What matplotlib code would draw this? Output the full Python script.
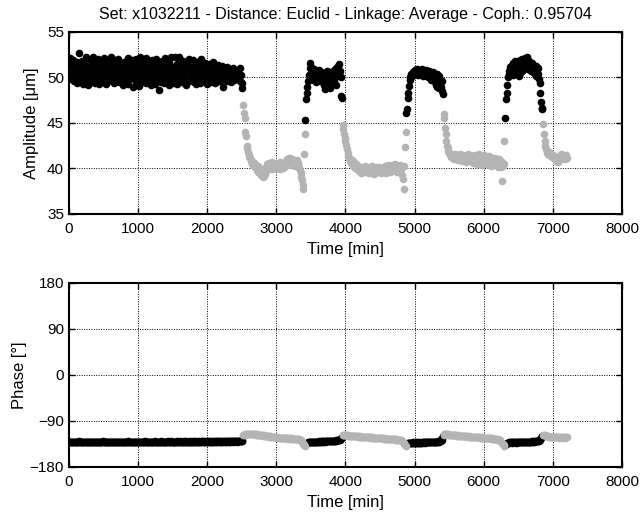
import numpy as np
import matplotlib
matplotlib.use("Agg")
import matplotlib.pyplot as plt

plt.rcParams['font.family'] = ['Liberation Sans', 'DejaVu Sans']

# sampling every 10 min, 0..7200
t = np.arange(0, 7201, 10)
seg_len = [252, 90, 54, 92, 54, 89, 55, 35]
seg_cluster = [1, 2, 1, 2, 1, 2, 1, 2]

# amplitude [um], per segment
amp_k1 = [51.6, 50.4, 52.1, 49.8, 51.2, 50.1, 51.9, 49.6, 50.8, 51.4, 50.0, 49.4, 51.7, 50.6, 49.9, 52.7, 51.0, 49.5, 50.7, 51.8,
          50.2, 49.3, 51.5, 50.9, 49.8, 52.2, 50.4, 49.2, 51.1, 50.6, 49.7, 51.9, 50.3, 49.5, 51.3, 52.3, 50.8, 49.4, 50.1, 51.6,
          49.9, 50.7, 52.0, 49.3, 51.2, 50.5, 49.8, 51.7, 50.2, 49.5, 51.0, 52.1, 50.6, 49.3, 50.9, 51.5, 49.7, 50.3, 51.8, 49.9,
          50.8, 52.2, 49.6, 51.3, 50.1, 49.4, 51.9, 50.7, 49.9, 51.4, 50.3, 52.0, 49.5, 50.9, 51.6, 49.8, 50.4, 51.2, 49.2, 50.6,
          51.7, 50.0, 49.6, 51.1, 50.5, 52.1, 49.3, 50.8, 51.4, 49.9, 50.2, 51.9, 48.9, 50.6, 51.3, 49.7, 50.9, 52.0, 49.4, 50.3,
          51.5, 49.1, 50.7, 52.2, 50.0, 49.5, 51.2, 50.4, 51.8, 49.8, 50.6, 52.1, 49.4, 51.0, 50.3, 49.7, 51.6, 50.9, 49.2, 50.5,
          51.9, 50.1, 49.6, 51.3, 50.7, 49.3, 52.0, 50.4, 49.9, 51.5, 48.6, 50.8, 51.2, 49.5, 50.2, 51.8, 50.6, 49.4, 51.0, 52.1,
          50.3, 49.7, 51.4, 50.0, 49.2, 51.7, 50.8, 49.9, 52.2, 50.5, 49.4, 51.1, 50.2, 52.3, 49.6, 50.9, 51.5, 49.3, 50.6, 52.2,
          50.1, 49.8, 51.3, 50.7, 49.5, 51.8, 50.3, 49.9, 51.0, 50.5, 49.2, 51.6, 50.8, 52.0, 49.6, 50.4, 51.2, 49.7, 50.9, 51.9,
          50.2, 49.5, 51.1, 50.6, 49.3, 51.7, 50.0, 49.8, 51.4, 50.7, 49.4, 52.0, 50.3, 49.9, 51.2, 50.5, 49.6, 51.6, 50.1, 49.3,
          51.3, 50.8, 49.7, 51.5, 50.2, 49.5, 51.0, 50.6, 49.9, 51.7, 50.4, 49.4, 51.2, 50.0, 49.8, 51.4, 50.7, 49.6, 51.1, 50.3,
          49.7, 50.9, 51.3, 48.9, 50.5, 51.0, 49.8, 50.2, 51.2, 49.6, 50.7, 50.1, 49.9, 50.8, 50.4, 49.5, 50.6, 51.0, 50.0, 49.7,
          50.5, 50.2, 49.8, 50.6, 50.0, 49.9, 50.4, 51.0, 49.6, 50.3, 48.8, 49.4]
amp_g1 = [47.0, 46.1, 45.6, 44.0, 43.6, 42.5, 42.2, 41.8, 41.5, 41.3,
          41.1, 40.9, 40.8, 40.5, 40.7, 40.3, 40.6, 40.2, 40.4, 40.0,
          39.8, 40.3, 39.6, 40.1, 39.5, 39.9, 39.3, 39.7, 39.1, 39.6,
          39.2, 40.0, 39.4, 40.2, 39.8, 40.5, 39.9, 40.3, 40.6, 40.1,
          40.4, 39.9, 40.7, 40.2, 40.5, 40.0, 40.3, 40.6, 40.1, 40.4,
          40.0, 40.5, 40.2, 40.7, 39.9, 40.3, 40.6, 40.1, 40.4, 40.2,
          40.6, 40.3, 40.8, 40.5, 41.0, 40.7, 41.2, 40.9, 41.1, 40.8,
          40.6, 41.0, 40.4, 40.9, 40.7, 40.3, 40.8, 40.5, 40.9, 40.6,
          40.4, 40.1, 39.8, 39.5, 39.1, 38.7, 38.2, 37.8, 41.6, 43.8]
amp_k2 = [45.3, 47.6, 48.3, 48.9, 49.6, 50.3, 51.0, 51.6, 51.2, 50.6,
          50.1, 49.7, 50.4, 50.9, 50.2, 49.5, 50.7, 50.0, 49.8, 50.5,
          50.8, 50.3, 49.6, 50.6, 50.1, 49.9, 50.4, 49.2, 48.7, 49.5,
          50.2, 50.7, 50.4, 49.9, 50.6, 48.8, 49.4, 50.1, 50.5, 50.0,
          50.3, 49.6, 50.8, 50.4, 49.2, 51.0, 50.6, 51.3, 50.2, 51.5,
          50.7, 50.1, 48.0, 47.7]
amp_g2 = [44.8, 44.3, 43.8, 43.4, 43.0, 42.6, 42.1, 41.7, 41.4, 41.1,
          41.0, 40.8, 40.6, 40.9, 40.5, 40.3, 40.7, 40.4, 40.1, 40.5,
          40.2, 39.9, 40.3, 40.0, 39.7, 40.2, 39.5, 39.9, 40.1, 39.6,
          40.0, 39.8, 40.3, 39.6, 39.9, 40.2, 39.7, 40.0, 39.5, 39.8,
          40.1, 39.6, 39.9, 40.3, 39.7, 40.0, 39.4, 39.8, 40.2, 39.9,
          39.6, 40.0, 39.7, 40.2, 39.9, 39.5, 39.8, 40.1, 39.6, 40.0,
          39.8, 40.3, 39.5, 39.9, 40.2, 39.7, 40.4, 39.9, 40.1, 39.6,
          40.0, 40.4, 39.7, 40.2, 39.9, 40.5, 39.8, 40.1, 40.3, 39.6,
          40.0, 40.2, 39.7, 40.4, 39.9, 40.1, 39.3, 38.8, 37.7, 40.3,
          42.4, 44.0]
amp_k3 = [46.1, 46.5, 47.7, 48.3, 49.1, 49.7, 50.1, 50.4, 50.2, 50.6,
          50.3, 50.7, 50.5, 50.8, 50.4, 50.9, 50.6, 50.3, 50.7, 50.5,
          50.8, 50.4, 50.9, 50.6, 50.2, 50.7, 50.5, 50.3, 50.8, 50.4,
          50.6, 50.1, 50.5, 50.7, 50.0, 50.4, 49.7, 50.2, 50.6, 49.9,
          50.3, 49.5, 50.1, 49.2, 50.4, 49.0, 49.8, 48.8, 50.2, 49.4,
          48.9, 48.5, 49.6, 48.2]
amp_g3 = [46.0, 45.6, 44.5, 43.8, 43.0, 42.5, 42.2, 41.9, 41.7, 41.5,
          41.6, 41.3, 41.5, 41.2, 41.4, 41.0, 41.6, 41.3, 41.1, 41.5,
          41.2, 40.9, 41.4, 41.1, 41.6, 41.0, 41.3, 40.8, 41.5, 41.2,
          41.0, 41.4, 40.7, 41.3, 41.1, 41.6, 40.9, 41.2, 41.5, 40.8,
          41.3, 41.0, 41.4, 40.6, 41.2, 41.5, 40.9, 41.1, 40.5, 41.3,
          41.0, 41.6, 40.8, 41.2, 40.4, 41.4, 40.9, 41.1, 40.6, 41.5,
          41.2, 40.7, 41.3, 40.5, 41.0, 41.4, 40.8, 41.1, 40.3, 40.9,
          41.2, 40.6, 41.0, 40.4, 40.8, 41.1, 40.5, 40.9, 40.2, 40.7,
          41.0, 40.4, 40.8, 40.2, 38.6, 40.7, 40.3, 43.0, 40.5]
amp_k4 = [45.5, 47.6, 48.3, 49.2, 50.0, 50.7, 50.4, 51.1, 50.6, 51.3,
          50.8, 51.6, 50.3, 51.0, 51.8, 50.5, 51.2, 51.7, 50.9, 51.4,
          50.2, 51.9, 51.1, 50.6, 51.5, 52.0, 50.8, 51.3, 51.7, 52.1,
          51.0, 52.3, 51.6, 50.9, 51.4, 51.8, 51.2, 51.5, 50.7, 51.6,
          51.1, 51.4, 50.5, 51.0, 51.3, 50.2, 50.8, 50.4, 51.0, 49.8,
          49.4, 48.3, 47.3, 46.7, 46.5]
amp_g4 = [44.9, 43.8, 43.0, 42.5, 42.1, 41.7, 41.9, 41.6, 41.8, 41.5,
          41.7, 41.4, 41.6, 41.3, 41.5, 41.2, 41.4, 41.0, 41.3, 40.8,
          41.1, 40.7, 41.2, 40.9, 41.4, 41.0, 41.6, 41.3, 41.5, 41.1,
          41.4, 41.0, 41.3, 41.5, 41.2]

# phase [deg], per segment
ph_k1 = [-130.5, -131, -131.5, -131, -130.5, -131, -132, -131, -130.5, -131.5, -131, -130.5, -131, -131.5, -131, -130, -131, -131.5, -131, -130.5,
         -131, -131.5, -130.5, -131, -132, -131, -130.5, -131, -131.5, -131, -130.5, -131, -131.5, -130.5, -131, -131.5, -132, -131, -130.5, -131,
         -131.5, -131, -130.5, -131, -131.5, -130.5, -131, -131.5, -131, -130, -131, -131.5, -131, -130.5, -131, -132, -131.5, -131, -130.5, -131,
         -131, -130.5, -131.5, -131, -130.5, -131, -131.5, -131, -130.5, -131, -132, -131, -130.5, -131.5, -131, -130.5, -131, -131.5, -130.5, -131,
         -131.5, -131, -130.5, -131, -131.5, -130, -131, -131.5, -131, -130.5, -131, -131.5, -132, -131, -130.5, -131, -131.5, -131, -130.5, -131,
         -130.5, -131, -131.5, -130.5, -131, -132, -131, -130.5, -131, -131.5, -130, -131, -131.5, -131, -130.5, -131, -131.5, -130.5, -131, -131.5,
         -131, -130.5, -131, -131.5, -130, -131, -131.5, -130.5, -131, -132, -131, -130.5, -131, -129.5, -131, -131.5, -130.5, -131, -131.5, -131,
         -130.5, -131, -131.5, -130, -131, -131.5, -130.5, -131, -129.5, -131, -131.5, -130.5, -131, -132, -130.5, -131, -130, -131.5, -131, -130.5,
         -131, -129.5, -131, -131.5, -130.5, -131, -130, -131.5, -131, -130.5, -129.5, -131, -131.5, -130.5, -131, -130, -131, -131.5, -130.5, -129.5,
         -131, -130.5, -131.5, -130, -131, -130.5, -129.5, -131, -131.5, -130.5, -131, -130, -129.5, -131, -130.5, -131.5, -130, -131, -129.5, -130.5,
         -131, -130, -130.5, -129.5, -131, -130.5, -130, -131, -129.5, -130.5, -131, -130, -129, -130.5, -131, -130, -129.5, -130.5, -131, -130,
         -129.5, -130.5, -131, -129, -130, -130.5, -129.5, -131, -130, -129, -130.5, -129.5, -130, -131, -129, -130, -129.5, -130.5, -129, -130,
         -129.5, -130, -129, -130.5, -129.5, -129, -130, -129.5, -128.5, -129.5, -129, -128.5]
ph_g1 = [-117, -116.5, -116, -116.5, -115.5, -116, -115.5, -116, -115.5, -116,
         -115.5, -116, -115, -115.5, -116, -115.5, -115, -116, -115.5, -116.5,
         -116, -116.5, -117, -116.5, -117.5, -117, -118, -117.5, -118, -118.5,
         -118, -119, -118.5, -119.5, -119, -120, -119.5, -120, -120.5, -120,
         -121, -120.5, -121, -121.5, -121, -122, -121.5, -122, -121.5, -122.5,
         -122, -122.5, -123, -122.5, -123, -122.5, -123.5, -123, -123.5, -123,
         -123.5, -124, -123.5, -124, -123.5, -124.5, -124, -123.5, -124.5, -124,
         -124.5, -124, -125, -124.5, -125, -124.5, -125.5, -125, -125.5, -125,
         -125.5, -126, -126.5, -127.5, -129, -130.5, -132.5, -135, -137.5, -139]
ph_k2 = [-137, -135, -133.5, -132.5, -132, -131.5, -132, -131.5, -131, -131.5,
         -131, -131.5, -130.5, -131, -131.5, -130.5, -131, -130.5, -131, -130,
         -130.5, -131, -130, -130.5, -130, -130.5, -129.5, -130, -130.5, -129.5,
         -130, -129.5, -130, -129, -129.5, -130, -129, -129.5, -129, -128.5,
         -129, -128.5, -129, -128.5, -128, -128.5, -128, -127.5, -128, -127.5,
         -126.5, -125, -123.5, -121.5]
ph_g2 = [-118, -117.5, -117, -117.5, -118, -117.5, -118, -118.5, -118, -118.5,
         -118.5, -119, -118.5, -119, -119.5, -119, -119.5, -119, -119.5, -120,
         -119.5, -120, -120.5, -120, -120.5, -120, -121, -120.5, -121, -120.5,
         -121, -121.5, -121, -121.5, -121, -122, -121.5, -122, -121.5, -122,
         -122.5, -122, -122.5, -122, -123, -122.5, -123, -122.5, -123, -123.5,
         -123, -123.5, -123, -124, -123.5, -124, -123.5, -124, -124.5, -124,
         -124.5, -124, -124.5, -125, -124.5, -125, -124.5, -125, -125.5, -125,
         -125.5, -125, -125.5, -126, -125.5, -126, -126.5, -126, -126.5, -127,
         -126.5, -127, -126.5, -127, -127.5, -128, -129, -130.5, -132.5, -134.5,
         -136.5, -138]
ph_k3 = [-137, -135.5, -134, -133, -132.5, -133, -132.5, -133, -132.5, -132,
         -132.5, -133, -132.5, -132, -132.5, -133, -132, -132.5, -132, -132.5,
         -133, -132.5, -132, -132.5, -132, -131.5, -132, -132.5, -132, -131.5,
         -132, -131.5, -132, -131.5, -131, -131.5, -132, -131.5, -131, -131.5,
         -131, -131.5, -131, -130.5, -131, -130.5, -130, -130.5, -130, -129.5,
         -128.5, -126.5, -123.5, -120]
ph_g3 = [-116.5, -116, -115.5, -116, -115.5, -116, -116.5, -116, -116.5, -117,
         -116.5, -117, -117.5, -117, -117.5, -118, -117.5, -118, -118.5, -118,
         -118.5, -118, -118.5, -119, -118.5, -119, -119.5, -119, -119.5, -119,
         -119.5, -120, -119.5, -120, -120.5, -120, -120.5, -120, -121, -120.5,
         -121, -120.5, -121, -121.5, -121, -121.5, -121, -122, -121.5, -122,
         -121.5, -122, -122.5, -122, -122.5, -122, -123, -122.5, -123, -122.5,
         -123, -123.5, -123, -123.5, -124, -123.5, -124, -123.5, -124, -124.5,
         -124, -124.5, -125, -124.5, -125, -125.5, -125, -125.5, -126, -126.5,
         -127, -128, -129.5, -131, -132.5, -134, -135.5, -137, -138.5]
ph_k4 = [-137, -135.5, -134, -133, -132.5, -132, -132.5, -132, -131.5, -132,
         -132.5, -132, -131.5, -132, -131.5, -132, -132.5, -132, -131.5, -131,
         -131.5, -132, -131.5, -131, -131.5, -132, -131.5, -131, -131.5, -131,
         -131.5, -131, -130.5, -131, -131.5, -131, -130.5, -131, -130.5, -130,
         -130.5, -130, -130.5, -129.5, -130, -129.5, -129, -129.5, -129, -128.5,
         -127, -125, -122.5, -120, -118.5]
ph_g4 = [-117.5, -117, -117.5, -118, -118.5, -119, -119.5, -120, -120.5, -121,
         -121, -121.5, -121, -121.5, -122, -121.5, -122, -121.5, -122, -121.5,
         -122, -121.5, -122, -122.5, -122, -121.5, -122, -122.5, -122, -121.5,
         -122, -122.5, -122, -121.5, -122]

title = "Set: x1032211 - Distance: Euclid - Linkage: Average - Coph.: 0.95704"
colors = {1: 'black', 2: '#b4b4b4'}

amp = np.concatenate([amp_k1, amp_g1, amp_k2, amp_g2, amp_k3, amp_g3, amp_k4, amp_g4])
phase = np.concatenate([ph_k1, ph_g1, ph_k2, ph_g2, ph_k3, ph_g3, ph_k4, ph_g4])
cluster = np.repeat(seg_cluster, seg_len)


def style(ax):
    ax.set_xlim(0, 8000)
    ax.set_xticks(np.arange(0, 8001, 1000))
    ax.grid(True, color='k', linestyle=(0, (1, 1.5)), linewidth=0.7)
    ax.tick_params(direction='in', top=True, right=True, length=4, width=1, labelsize=11)
    ax.tick_params(axis='x', pad=6)
    for s in ax.spines.values():
        s.set_linewidth(1.5)
    ax.set_xlabel("Time [min]", fontsize=12, labelpad=4)


fig = plt.figure(figsize=(6.41, 5.18), dpi=100)
ax1 = fig.add_axes([0.1076, 0.5869, 0.8627, 0.3514])
ax2 = fig.add_axes([0.1076, 0.0985, 0.8627, 0.3552])

for c in [1, 2]:
    m = cluster == c
    ax1.plot(t[m], amp[m], 'o', color=colors[c], markersize=5.5, markeredgewidth=0)
    ax2.plot(t[m], phase[m], 'o', color=colors[c], markersize=5.5, markeredgewidth=0)

style(ax1)
ax1.set_ylim(35, 55)
ax1.set_yticks([35, 40, 45, 50, 55])
ax1.set_ylabel("Amplitude [\u03bcm]", fontsize=12, labelpad=6)
ax1.set_title(title, fontsize=11.5, pad=9)

style(ax2)
ax2.set_ylim(-180, 180)
ax2.set_yticks([-180, -90, 0, 90, 180])
ax2.set_ylabel("Phase [\u00b0]", fontsize=12, labelpad=2)

fig.savefig("out.png", dpi=100)
